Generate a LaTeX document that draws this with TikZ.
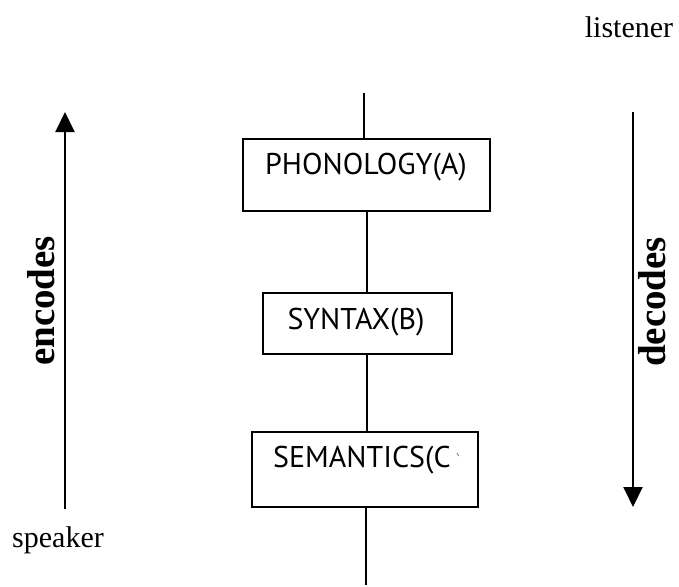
\documentclass[tikz,border=0pt]{standalone}
\usepackage{fontspec}
\setmainfont{Liberation Serif}
\newfontfamily\boxfont{PT Sans}
\usetikzlibrary{arrows.meta}

\begin{document}
\begin{tikzpicture}[x=1pt,y=-1pt,
  level/.style={draw=black, line width=2pt, minimum width=#1, inner sep=0pt},
  levelname/.style={font=\boxfont\fontsize{30}{34}\selectfont, inner sep=0pt},
  link/.style={line width=1.8pt},
  flow/.style={line width=2pt, -{Triangle[width=19pt,length=20pt]}},
  side/.style={font=\fontsize{30}{34}\selectfont, inner sep=0pt},
  verb/.style={font=\bfseries\fontsize{39}{41}\selectfont, rotate=90, inner sep=0pt}]
\useasboundingbox (0,0) rectangle (679,586);

% the three levels of the grammar
\node[level=247pt, minimum height=72pt] (ph) at (366.5,175) {};
\node[levelname] (phl) at (366,167) {PHONOLOGY(A)};
\node[level=189pt, minimum height=61pt] (sy) at (357.5,323.5) {};
\node[levelname] (syl) at (356,322) {SYNTAX(B)};
\node[level=226pt, minimum height=75pt] (se) at (365,469.5) {};
\node[levelname, anchor=west] (sel) at (273,460) {SEMANTICS(C};
\draw[gray, line width=0.8pt] ([xshift=6pt,yshift=7pt]sel.east) -- ++(2,3);

% the vertical line through the levels
\coordinate (top) at (364,93);
\coordinate (mid) at (367,0);
\coordinate (bot) at (366,585);
\draw[link] (top) -- (top |- ph.north);
\draw[link] (mid |- ph.south) -- (mid |- sy.north);
\draw[link] (mid |- sy.south) -- (mid |- se.north);
\draw[link] (bot |- se.south) -- (bot);

% speaker side
\coordinate (encA) at (65,509);
\coordinate (encB) at (65,112);
\draw[flow] (encA) -- (encB);
\node[verb] (enc) at (41,301) {encodes};
\node[side] (spk) at (58,540) {speaker};

% listener side
\coordinate (decA) at (633,112);
\coordinate (decB) at (633,507);
\draw[flow] (decA) -- (decB);
\node[verb] (dec) at (652,302) {decodes};
\node[side] (lis) at (629,27) {listener};
\end{tikzpicture}
\end{document}
